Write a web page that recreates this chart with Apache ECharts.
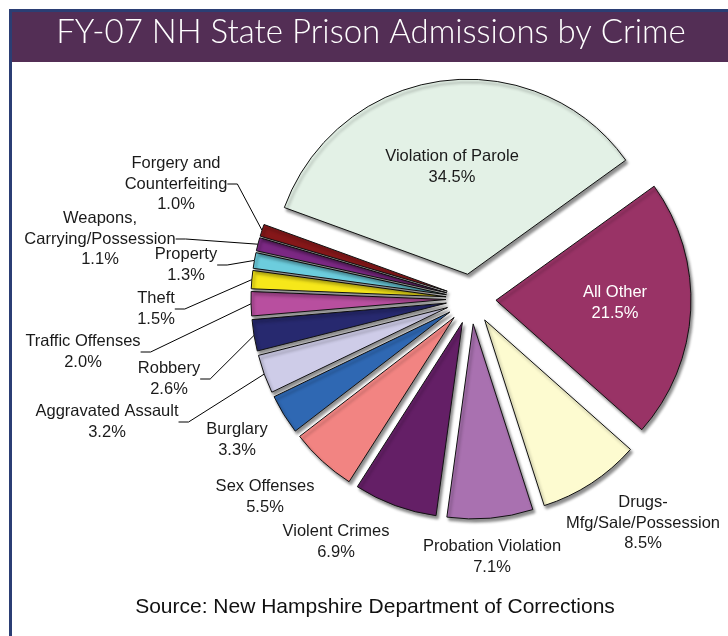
<!DOCTYPE html>
<html><head><meta charset="utf-8">
<script src="https://cdn.jsdelivr.net/npm/echarts@6/dist/echarts.min.js"></script>
<style>html,body{margin:0;padding:0;background:#fff}#c{width:728px;height:636px}</style>
</head><body><div id="c"></div>
<script>
const categories = ['Violation of Parole', 'All Other', 'Drugs-\nMfg/Sale/Possession', 'Probation Violation',
  'Violent Crimes', 'Sex Offenses', 'Burglary', 'Aggravated Assault', 'Robbery', 'Traffic Offenses',
  'Theft', 'Property', 'Weapons,\nCarrying/Possession', 'Forgery and\nCounterfeiting'];
const values = [34.5, 21.5, 8.5, 7.1, 6.9, 5.5, 3.3, 3.2, 2.6, 2.0, 1.5, 1.3, 1.1, 1.0];
const colors = ['#e3f1e6', '#993366', '#fdfbd0', '#a971b0', '#641f66', '#f28482', '#2f68b3',
  '#cecce8', '#27296f', '#b84f9f', '#f6e71a', '#6ccddd', '#7b2883', '#851719'];
const labelSpots = [[452,167],[615,303],[643,523],[492,557],[336,542],[265,497],[237,440],
  [107,422],[169,379],[83,352],[156,309],[186,265],[100,239],[176,184]];
const leaderLines = [false,false,false,false,false,false,false,true,true,true,true,true,true,true];

const CX = 471, CY = 299, R = 195, START = 160, EXPLODE = 25;
const total = values.reduce((a, b) => a + b, 0);
let acc = 0;
const mids = values.map(v => { const m = START - (acc + v / 2) / total * 360; acc += v; return m * Math.PI / 180; });

const chart = echarts.init(document.getElementById('c'), null, {renderer: 'canvas'});
const series = values.map((_, i) => ({
  type: 'pie',
  center: [CX + EXPLODE * Math.cos(mids[i]), CY - EXPLODE * Math.sin(mids[i])],
  radius: [0, R],
  startAngle: START,
  clockwise: true,
  avoidLabelOverlap: false,
  silent: true,
  emphasis: {disabled: true},
  itemStyle: {borderColor: '#111', borderWidth: 1, shadowBlur: 3, shadowOffsetX: 2, shadowOffsetY: 3, shadowColor: 'rgba(0,0,0,0.45)'},
  label: {
    show: true, position: 'outside',
    formatter: p => p.name + '\n' + p.value.toFixed(1) + '%',
    fontFamily: 'Liberation Sans', fontSize: 16.5, lineHeight: 20.5, color: '#1a1a1a', align: 'center'
  },
  labelLine: {show: true, length: 10, length2: 10, lineStyle: {color: '#000', width: 1}},
  labelLayout: function (params) {
    if (params.dataIndex !== i) return {};
    const s = labelSpots[i];
    return {x: s[0], y: s[1], align: 'center', verticalAlign: 'middle'};
  },
  data: categories.map((n, j) => ({
    name: n, value: values[j],
    itemStyle: j === i ? {color: colors[j]} : {opacity: 0},
    label: j === i ? {show: true, position: j < 2 ? 'inside' : 'outside', color: j === 1 ? '#fff' : '#1a1a1a'} : {show: false},
    labelLine: {show: j === i && leaderLines[j]}
  }))
}));

chart.setOption({
  animation: false,
  graphic: [
    {type: 'rect', shape: {x: 9, y: 9, width: 719, height: 53}, style: {fill: '#532e55'}},
    {type: 'rect', shape: {x: 9, y: 9, width: 719, height: 3}, style: {fill: '#2b3e74'}},
    {type: 'rect', shape: {x: 9, y: 9, width: 3, height: 627}, style: {fill: '#2b3e74'}},
    {type: 'text', x: 371, y: 32, style: {text: 'FY-07 NH State Prison Admissions by Crime', fill: '#fff',
      font: '300 33px Lato', textAlign: 'center', textVerticalAlign: 'middle'}},
    {type: 'text', x: 375, y: 607, style: {text: 'Source: New Hampshire Department of Corrections', fill: '#111',
      font: '21px "Liberation Sans"', textAlign: 'center', textVerticalAlign: 'middle'}}
  ],
  series: series
});
</script>
</body></html>
